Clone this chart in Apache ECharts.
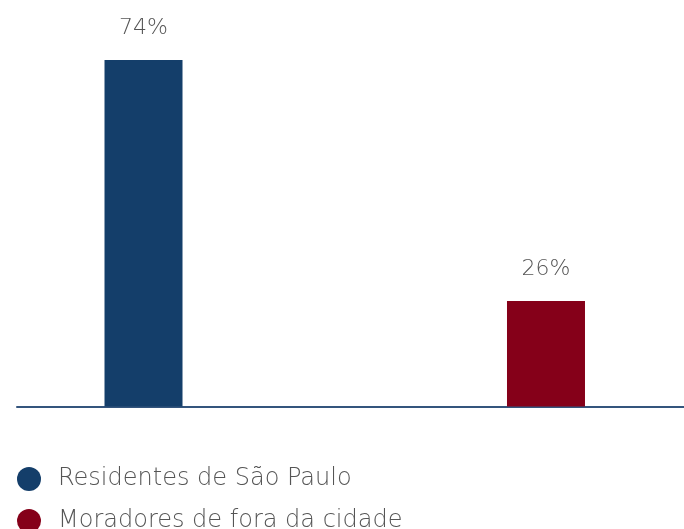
<!DOCTYPE html>
<html>
<head>
<meta charset="utf-8">
<script src="https://cdn.jsdelivr.net/npm/echarts@6/dist/echarts.min.js"></script>
<style>
  html, body { margin: 0; padding: 0; background: #fff; }
  #chart { width: 684px; height: 529px; }
</style>
</head>
<body>
<div id="chart"></div>
<script>
// dados
var categories = ['Residentes de São Paulo', 'Moradores de fora da cidade'];
var values = [74, 26];
var colors = ['#143e6a', '#850019'];

var font = 'DejaVu Sans';

var series = categories.map(function (name, i) {
    return {
        name: name,
        type: 'bar',
        xAxisIndex: 0,
        yAxisIndex: 0,
        barWidth: 78,
        barGap: '416%',
        itemStyle: { color: colors[i] },
        label: {
            show: true,
            position: 'top',
            distance: 20.5,
            formatter: '{c}%',
            color: '#555555',
            fontFamily: font,
            fontWeight: 200,
            fontSize: 22
        },
        data: [values[i]]
    };
});

var option = {
    animation: false,
    grid: [
        // barras
        { left: 5.5, right: 0, top: 60, bottom: 122.5 },
        // linha de base
        { left: 17, right: 0, top: 60, bottom: 122.5 }
    ],
    xAxis: [
        {
            type: 'category', gridIndex: 0, data: ['total'],
            axisLine: { show: false }, axisTick: { show: false }, axisLabel: { show: false }
        },
        {
            type: 'category', gridIndex: 1, data: [''],
            axisLine: { show: true, lineStyle: { color: '#34557d', width: 2 } },
            axisTick: { show: false }, axisLabel: { show: false }
        }
    ],
    yAxis: [
        { type: 'value', gridIndex: 0, min: 5, max: 74, show: false, splitLine: { show: false } },
        { type: 'value', gridIndex: 1, min: 0, max: 1, show: false, splitLine: { show: false } }
    ],
    legend: {
        orient: 'vertical',
        left: 17,
        top: 462,
        padding: 0,
        height: 90,
        icon: 'circle',
        itemWidth: 24,
        itemHeight: 24,
        itemGap: 8,
        textStyle: {
            color: '#555555',
            fontFamily: font,
            fontWeight: 200,
            fontSize: 24,
            lineHeight: 23,
            padding: [0, 0, 11, 12]
        },
        data: categories
    },
    series: series
};

echarts.init(document.getElementById('chart')).setOption(option);
</script>
</body>
</html>
